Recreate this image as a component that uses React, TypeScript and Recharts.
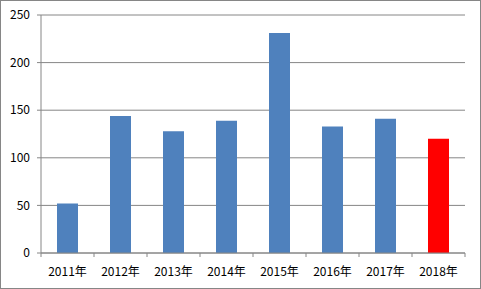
import React from 'react';
import { BarChart, Bar, XAxis, YAxis, CartesianGrid, Cell } from 'recharts';

const years = ['2011年', '2012年', '2013年', '2014年', '2015年', '2016年', '2017年', '2018年'];
const values = [52, 144, 128, 139, 231, 133, 141, 120];
const yTicks = [0, 50, 100, 150, 200, 250];

const chartData = years.map((year, i) => ({ year, value: values[i] }));

const GRAY = '#868686';
const BAND = 53;

const XTick = (props: any) => {
  const { x, y, payload, index } = props;
  const left = x - BAND / 2;
  return (
    <g>
      <line x1={left} y1={y - 8} x2={left} y2={y - 4} stroke={GRAY} />
      {index === years.length - 1 && (
        <line x1={x + BAND / 2} y1={y - 8} x2={x + BAND / 2} y2={y - 4} stroke={GRAY} />
      )}
      <text x={x} y={y + 15} textAnchor="middle" fill="#000" fontSize={12}>
        {payload.value}
      </text>
    </g>
  );
};

const App: React.FC = () => {
  return (
    <div
      style={{
        position: 'absolute',
        left: 0,
        top: 0,
        width: 481,
        height: 289,
        border: `1px solid ${GRAY}`,
        boxSizing: 'border-box',
        background: '#fff',
        fontFamily: '"Noto Sans CJK SC", "DejaVu Sans", sans-serif',
      }}
    >
      <div style={{ position: 'absolute', left: -1, top: -1 }}>
        <BarChart
          width={481}
          height={289}
          data={chartData}
          margin={{ top: 15, right: 16, bottom: 6, left: 8 }}
          barSize={21}
        >
          <CartesianGrid vertical={false} stroke={GRAY} />
          <XAxis
            dataKey="year"
            height={30}
            stroke={GRAY}
            tickLine={false}
            tick={<XTick />}
            interval={0}
          />
          <YAxis
            width={33}
            domain={[0, 250]}
            ticks={yTicks}
            stroke={GRAY}
            tickSize={4}
            tickMargin={7}
            tick={{ fill: '#000', fontSize: 12 }}
          />
          <Bar dataKey="value" isAnimationActive={false}>
            {chartData.map((d, i) => (
              <Cell key={d.year} fill={i === chartData.length - 1 ? '#FF0000' : '#4F81BD'} />
            ))}
          </Bar>
        </BarChart>
      </div>
    </div>
  );
};

export default App;
